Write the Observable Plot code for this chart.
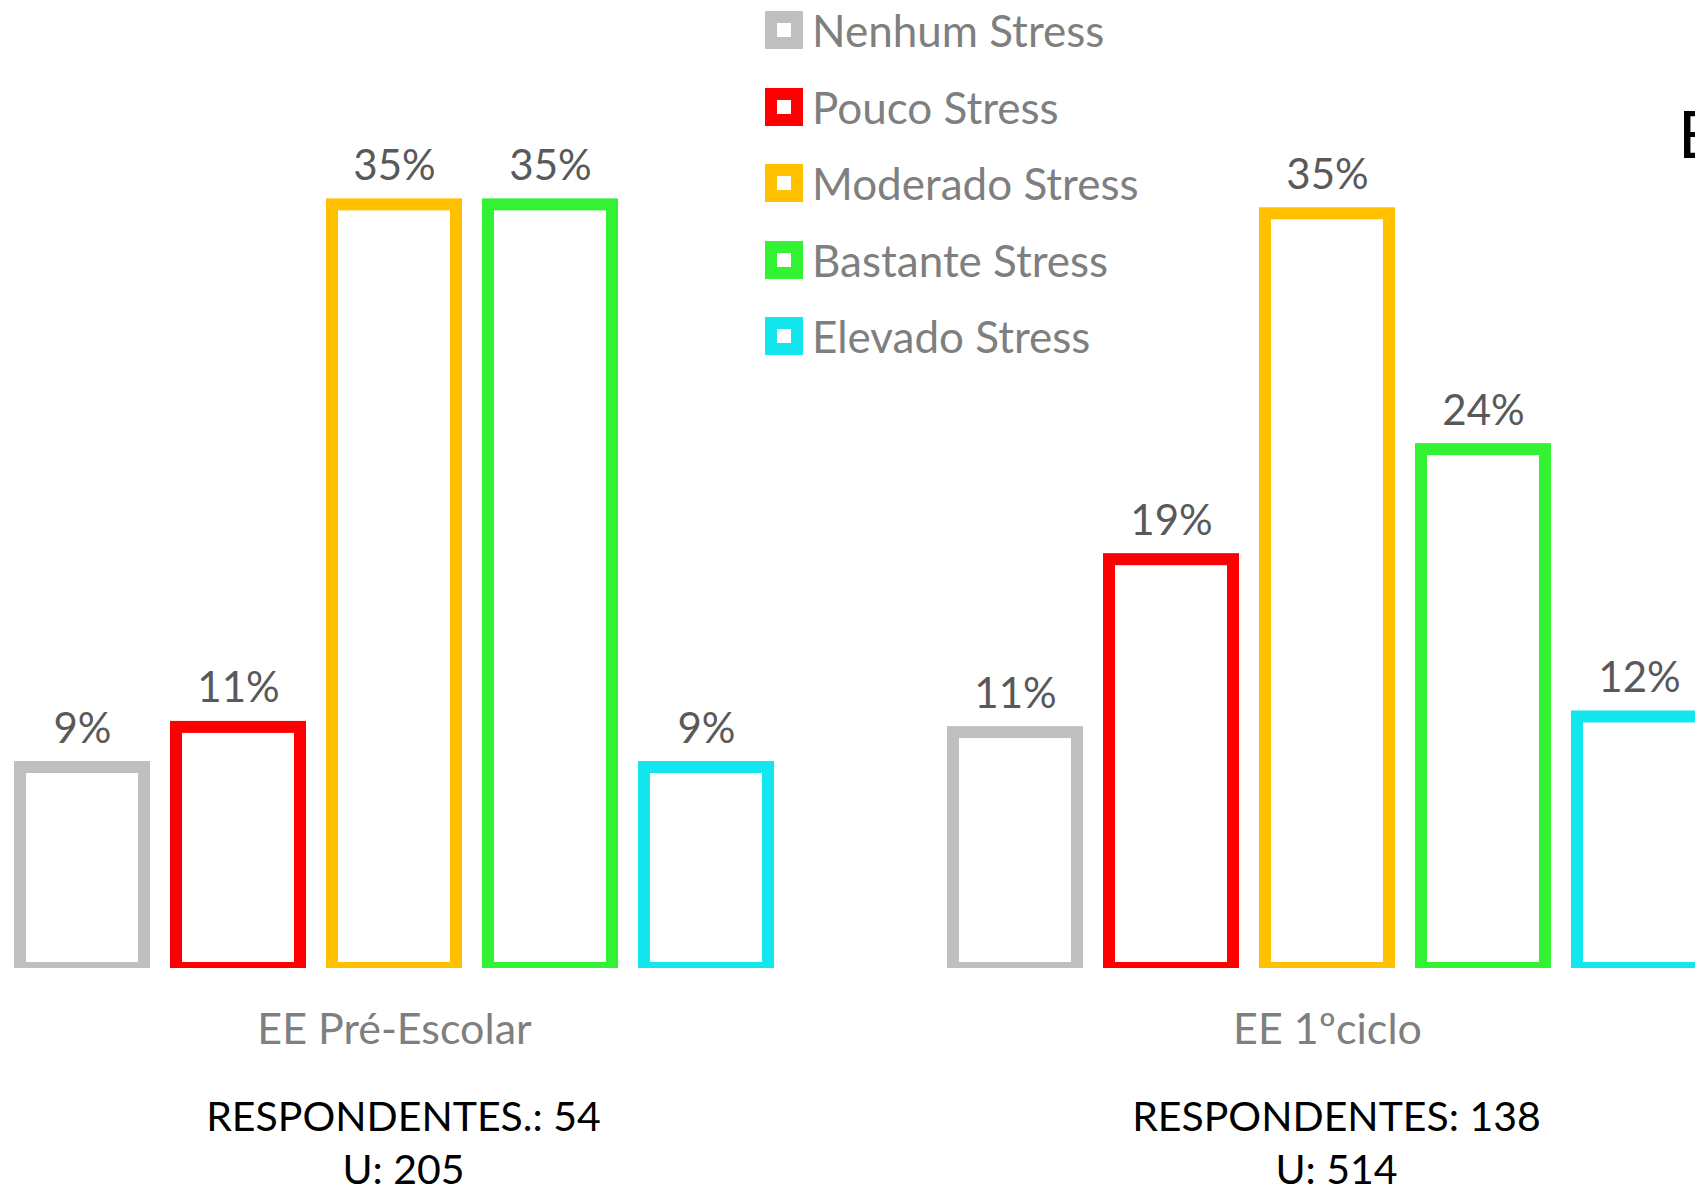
<!DOCTYPE html>
<html>
<head>
<meta charset="utf-8">
<script src="https://cdn.jsdelivr.net/npm/d3@7"></script>
<script src="https://cdn.jsdelivr.net/npm/@observablehq/plot@0.6"></script>
<style>
  html, body { margin: 0; padding: 0; background: #fff; overflow: hidden; }
  #wrap { position: relative; width: 1695px; height: 1191px; overflow: hidden; }
  #chart svg { max-width: none !important; }
  #legend { position: absolute; left: 765px; top: 11px; font-family: Lato, sans-serif; }
  .row { display: flex; align-items: center; height: 38px; margin-bottom: 38.5px; }
  .sw { width: 38px; height: 38px; box-sizing: border-box; border: 12px solid; background: #fff; }
  .lab { margin-left: 9px; font-size: 44px; line-height: 1; color: #7f7f7f; white-space: nowrap; }
  #title { position: absolute; left: 1678px; top: 100px; font-family: Lato, sans-serif; font-size: 66px; line-height: 1; color: #000; }
</style>
</head>
<body>
<div id="wrap">
  <div id="chart"></div>
  <div id="legend"></div>
  <div id="title">E</div>
</div>
<script>
// ---- data ----
const groups = ["EE Pré-Escolar", "EE 1ºciclo"];
const levels = ["Nenhum Stress", "Pouco Stress", "Moderado Stress", "Bastante Stress", "Elevado Stress"];
const colors = ["#BFBFBF", "#FF0000", "#FFC000", "#33F233", "#12E6EE"];
const preEscolar = [9.26, 11.11, 35.19, 35.19, 9.26];
const primeiroCiclo = [10.87, 18.84, 34.78, 23.91, 11.59];
const labelsPreEscolar = ["9%", "11%", "35%", "35%", "9%"];
const labelsPrimeiroCiclo = ["11%", "19%", "35%", "24%", "12%"];
const respondentes = ["RESPONDENTES.: 54", "RESPONDENTES: 138"];
const universo = ["U: 205", "U: 514"];

// ---- tables built from the arrays ----
const series = [preEscolar, primeiroCiclo];
const labels = [labelsPreEscolar, labelsPrimeiroCiclo];
const rows = [];
groups.forEach((g, gi) => levels.forEach((l, li) => rows.push({group: g, level: l, value: series[gi][li], label: labels[gi][li]})));
const groupRows = groups.map((g, gi) => ({group: g, info: respondentes[gi] + "\n" + universo[gi]}));

const chart = Plot.plot({
  width: 1717,
  height: 1191,
  marginTop: 100,
  marginBottom: 223,
  marginLeft: 4,
  marginRight: 0,
  style: {fontFamily: "Lato, sans-serif", background: "white", overflow: "visible", maxWidth: "none"},
  fx: {domain: groups, paddingInner: 153 / 933, paddingOuter: 0, axis: null, label: null},
  x: {domain: levels, padding: 0, axis: null},
  y: {domain: [0, 40], axis: null},
  color: {domain: levels, range: colors},
  marks: [
    Plot.barY(rows, {fx: "group", x: "level", y: "value", stroke: "level", fill: "white", strokeWidth: 12, insetLeft: 16, insetRight: 16, clip: true}),
    Plot.text(rows, {fx: "group", x: "level", y: "value", text: "label", lineAnchor: "bottom", dy: -25, fontSize: 42, fill: "#595959"}),
    Plot.text(groupRows, {fx: "group", text: "group", frameAnchor: "bottom", lineAnchor: "bottom", dy: 75, fontSize: 43, fill: "#7f7f7f"}),
    Plot.text(groupRows, {fx: "group", text: "info", frameAnchor: "bottom", lineAnchor: "bottom", dy: 215, dx: 9, lineHeight: 1.27, fontSize: 41, fill: "black"})
  ]
});
document.getElementById("chart").appendChild(chart);

// ---- legend ----
const legend = document.getElementById("legend");
levels.forEach((l, i) => {
  const row = document.createElement("div");
  row.className = "row";
  const sw = document.createElement("div");
  sw.className = "sw";
  sw.style.borderColor = colors[i];
  const lab = document.createElement("div");
  lab.className = "lab";
  lab.textContent = l;
  row.appendChild(sw);
  row.appendChild(lab);
  legend.appendChild(row);
});
</script>
</body>
</html>
